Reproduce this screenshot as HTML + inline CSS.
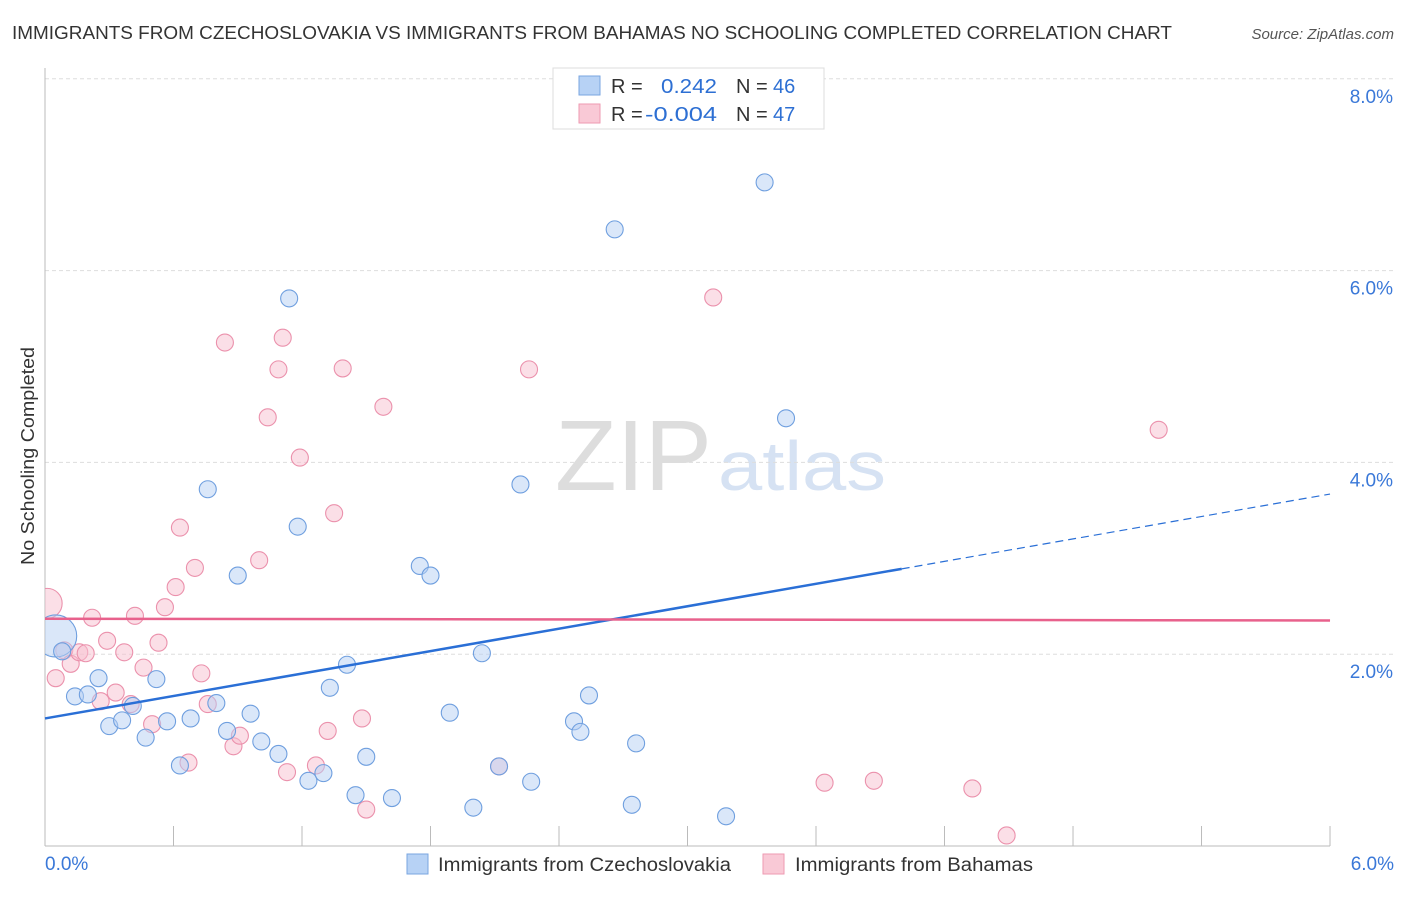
<!DOCTYPE html>
<html><head><meta charset="utf-8"><style>
body{margin:0;background:#fff;font-family:"Liberation Sans",sans-serif;}
svg text{font-family:"Liberation Sans",sans-serif;}
</style></head><body>
<svg id="chart" width="1406" height="892">
<text x="12" y="39" font-size="18" fill="#333" textLength="1160" lengthAdjust="spacingAndGlyphs">IMMIGRANTS FROM CZECHOSLOVAKIA VS IMMIGRANTS FROM BAHAMAS NO SCHOOLING COMPLETED CORRELATION CHART</text>
<text x="1394" y="39" font-size="15" fill="#555" font-style="italic" text-anchor="end">Source: ZipAtlas.com</text>
<text x="34" y="456" font-size="18" fill="#333" text-anchor="middle" textLength="218" lengthAdjust="spacingAndGlyphs" transform="rotate(-90 34 456)">No Schooling Completed</text>
<text x="555" y="490" font-size="100" fill="#ddd" font-family="Liberation Serif" textLength="157" lengthAdjust="spacingAndGlyphs">ZIP</text>
<text x="718" y="490" font-size="70" fill="#d6e2f3" textLength="168" lengthAdjust="spacingAndGlyphs">atlas</text>
<g id="grid"></g>
<g id="axes"></g>
<g id="pts"></g>
<g id="trend"></g>
<g>
<rect x="553" y="68" width="271" height="61" fill="#fff" stroke="#ddd"/>
<rect x="579" y="76" width="21" height="19" fill="#b7d2f5" stroke="#7aa6e0"/>
<rect x="579" y="104" width="21" height="19" fill="#f9c9d6" stroke="#ee9ab2"/>
<text x="611" y="93" font-size="20" fill="#333">R =</text>
<text x="661" y="93" font-size="20" fill="#2d6fd3" textLength="56" lengthAdjust="spacingAndGlyphs">0.242</text>
<text x="736" y="93" font-size="20" fill="#333">N =</text>
<text x="773" y="93" font-size="20" fill="#2d6fd3">46</text>
<text x="611" y="121" font-size="20" fill="#333">R =</text>
<text x="645" y="121" font-size="20" fill="#2d6fd3" textLength="72" lengthAdjust="spacingAndGlyphs">-0.004</text>
<text x="736" y="121" font-size="20" fill="#333">N =</text>
<text x="773" y="121" font-size="20" fill="#2d6fd3">47</text>
</g>
<g>
<rect x="407" y="854" width="21" height="20" fill="#b7d2f5" stroke="#7aa6e0"/>
<text x="438" y="871" font-size="19" fill="#333" textLength="293" lengthAdjust="spacingAndGlyphs">Immigrants from Czechoslovakia</text>
<rect x="763" y="854" width="21" height="20" fill="#f9c9d6" stroke="#ee9ab2"/>
<text x="795" y="871" font-size="19" fill="#333" textLength="238" lengthAdjust="spacingAndGlyphs">Immigrants from Bahamas</text>
</g>
<defs><clipPath id="plotclip"><rect x="45" y="60" width="1300" height="786"/></clipPath></defs>
</svg>
<script>
const blueX=[0.05,0.08,0.14,0.20,0.25,0.30,0.36,0.41,0.47,0.52,0.57,0.63,0.68,0.76,0.80,0.85,0.90,0.96,1.01,1.09,1.14,1.18,1.23,1.30,1.33,1.41,1.45,1.50,1.62,1.75,1.80,1.89,2.00,2.04,2.12,2.22,2.27,2.47,2.50,2.54,2.66,2.74,2.76,3.18,3.36,3.46];
const blueY=[2.19,2.03,1.56,1.58,1.75,1.25,1.31,1.46,1.13,1.74,1.30,0.84,1.33,3.72,1.49,1.20,2.82,1.38,1.09,0.96,5.71,3.33,0.68,0.76,1.65,1.89,0.53,0.93,0.50,2.92,2.82,1.39,0.40,2.01,0.83,3.77,0.67,1.30,1.19,1.57,6.43,0.43,1.07,0.31,6.92,4.46];
const pinkX=[0.01,0.05,0.09,0.12,0.16,0.19,0.22,0.26,0.29,0.33,0.37,0.40,0.42,0.46,0.50,0.53,0.56,0.61,0.63,0.67,0.70,0.73,0.76,0.84,0.88,0.91,1.00,1.04,1.09,1.11,1.13,1.19,1.265,1.32,1.35,1.39,1.48,1.50,1.58,2.12,2.26,3.12,3.64,3.87,4.33,4.49,5.20];
const pinkY=[2.53,1.75,2.04,1.90,2.02,2.01,2.38,1.51,2.14,1.60,2.02,1.48,2.40,1.86,1.27,2.12,2.49,2.70,3.32,0.87,2.90,1.80,1.48,5.25,1.04,1.15,2.98,4.47,4.97,5.30,0.77,4.05,0.84,1.20,3.47,4.98,1.33,0.38,4.58,0.83,4.97,5.72,0.66,0.68,0.60,0.11,4.34];
const yTicks=[2,4,6,8];
const yTickLabels=["2.0%","4.0%","6.0%","8.0%"];
const xTickLabels=["0.0%","6.0%"];
const blueTrend=[1.33,0.39];
const pinkTrend=[2.37,-0.003];
const xs=v=>45+v*214.17, ys=v=>846-v*95.9;
const NS="http://www.w3.org/2000/svg";
function mk(t,a,p){const e=document.createElementNS(NS,t);for(const k in a)e.setAttribute(k,a[k]);p.appendChild(e);return e;}
const grid=document.getElementById('grid'),axes=document.getElementById('axes'),pts=document.getElementById('pts'),tr=document.getElementById('trend');
yTicks.forEach((v,i)=>{
 const l=mk('line',{x1:45,x2:1395,y1:ys(v),y2:ys(v),stroke:'#ddd','stroke-dasharray':'4,3'},grid);
 
 
 const t=mk('text',{x:1393,y:ys(v)+24,'font-size':19,fill:'#3a78d8','text-anchor':'end'},grid);t.textContent=yTickLabels[i];
 
 
});
mk('line',{x1:45,x2:45,y1:68,y2:846,stroke:'#bbb'},axes);
mk('line',{x1:45,x2:1330,y1:846,y2:846,stroke:'#bbb'},axes);
for(let i=0;i<=10;i++){const x=xs(i*0.6);mk('line',{x1:x,x2:x,y1:826,y2:846,stroke:'#bbb'},axes);}
[[0,'start',45],[6,'end',1394]].forEach((d,i)=>{const t=mk('text',{x:d[2],y:870,'font-size':19,fill:'#3a78d8','text-anchor':d[1]},axes);t.textContent=xTickLabels[i];
 
 });
pts.setAttribute('clip-path','url(#plotclip)');
function dots(X,Y,fill,stroke,name,bigR){X.forEach((x,i)=>{const c=mk('circle',{cx:xs(x),cy:ys(Y[i]),r:i==0?bigR:8.5,fill:fill,'fill-opacity':0.5,stroke:stroke,'stroke-width':1.1},pts);
 
 });}
dots(pinkX,pinkY,'#f7bfd0','#eb91ac','bahamas-point',15);
dots(blueX,blueY,'#b5cff3','#6f9fdf','czechoslovakia-point',21);
const bl=mk('line',{x1:xs(0),y1:ys(blueTrend[0]),x2:xs(4),y2:ys(blueTrend[0]+blueTrend[1]*4),stroke:'#2a6fd6','stroke-width':2.5},tr);


const bd=mk('line',{x1:xs(4),y1:ys(blueTrend[0]+blueTrend[1]*4),x2:xs(6),y2:ys(blueTrend[0]+blueTrend[1]*6),stroke:'#2a6fd6','stroke-width':1.2,'stroke-dasharray':'8,5'},tr);


const pl=mk('line',{x1:xs(0),y1:ys(pinkTrend[0]),x2:xs(6),y2:ys(pinkTrend[0]+pinkTrend[1]*6),stroke:'#e8618c','stroke-width':2.5},tr);


</script>
</body></html>
